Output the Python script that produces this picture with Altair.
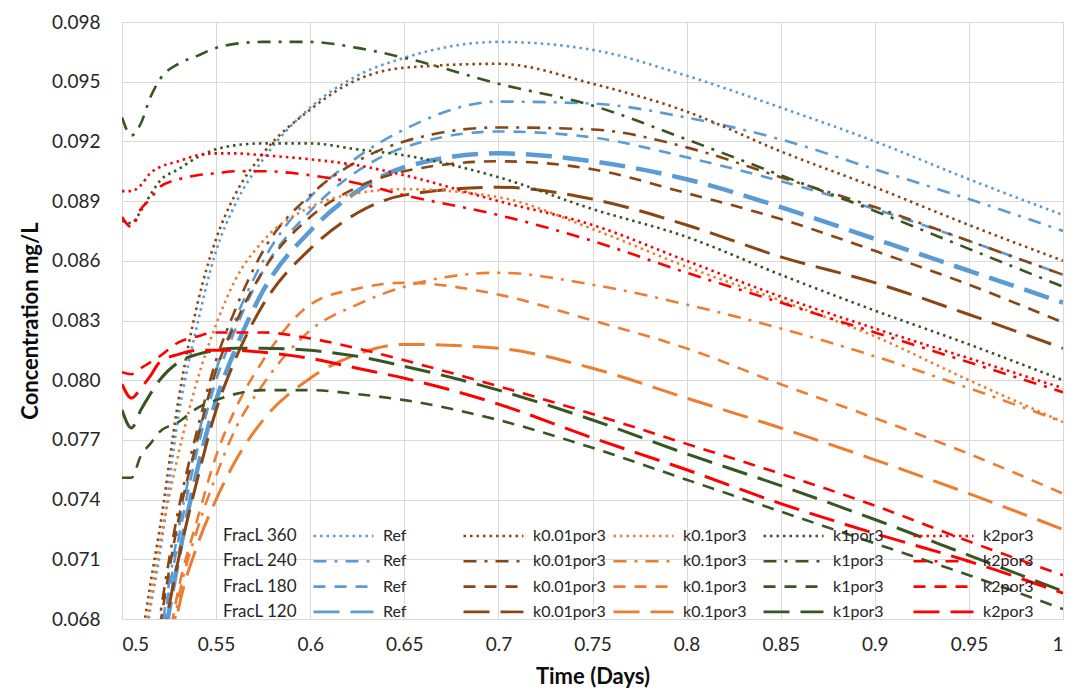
import altair as alt
import pandas as pd

# ---------------- data ----------------
TIME = [0.5, 0.505, 0.51, 0.515, 0.52, 0.53, 0.54, 0.55, 0.56, 0.575, 0.6, 0.625,
        0.65, 0.7, 0.75, 0.8, 0.85, 0.9, 0.95, 1.0]

FRACL = ["FracL 360", "FracL 240", "FracL 180", "FracL 120"]
VARIANTS = ["Ref", "k0.01por3", "k0.1por3", "k1por3", "k2por3"]

ref_360 = [0.058, 0.062, 0.0655, 0.0685, 0.0712, 0.0782, 0.0828, 0.0865, 0.0888, 0.0911, 0.0937, 0.0953, 0.0962, 0.0970, 0.0966, 0.0953, 0.0937, 0.0920, 0.0901, 0.0883]
ref_240 = [0.052, 0.056, 0.060, 0.0635, 0.0668, 0.0725, 0.0770, 0.0805, 0.0830, 0.0860, 0.0892, 0.0912, 0.0926, 0.0940, 0.0939, 0.0932, 0.0921, 0.0906, 0.0891, 0.0875]
ref_180 = [0.052, 0.056, 0.060, 0.0633, 0.0665, 0.0720, 0.0765, 0.0800, 0.0825, 0.0855, 0.0885, 0.0905, 0.0917, 0.0925, 0.0922, 0.0912, 0.0900, 0.0886, 0.0870, 0.0853]
ref_120 = [0.051, 0.055, 0.059, 0.0623, 0.0655, 0.0710, 0.0755, 0.0790, 0.0815, 0.0845, 0.0875, 0.0895, 0.0907, 0.0914, 0.0910, 0.0901, 0.0887, 0.0871, 0.0855, 0.0839]

k001_360 = [0.058, 0.0625, 0.0665, 0.0697, 0.0725, 0.0790, 0.0838, 0.0871, 0.0893, 0.0914, 0.0936, 0.0951, 0.0957, 0.0959, 0.0949, 0.0935, 0.0915, 0.0897, 0.0878, 0.0860]
k001_240 = [0.053, 0.057, 0.061, 0.0645, 0.0680, 0.0735, 0.0775, 0.0810, 0.0835, 0.0865, 0.0893, 0.0910, 0.0920, 0.0927, 0.0926, 0.0917, 0.0902, 0.0887, 0.0870, 0.0853]
k001_180 = [0.053, 0.057, 0.061, 0.0643, 0.0675, 0.0730, 0.0770, 0.0805, 0.0828, 0.0855, 0.0882, 0.0897, 0.0905, 0.0910, 0.0906, 0.0894, 0.0881, 0.0865, 0.0848, 0.0829]
k001_120 = [0.052, 0.056, 0.060, 0.0630, 0.0660, 0.0710, 0.0750, 0.0785, 0.0810, 0.0838, 0.0866, 0.0884, 0.0893, 0.0897, 0.0891, 0.0878, 0.0862, 0.0849, 0.0833, 0.0816]

k01_360 = [0.058, 0.062, 0.0658, 0.0688, 0.0717, 0.0763, 0.0800, 0.0828, 0.0850, 0.0870, 0.0887, 0.0894, 0.0896, 0.0892, 0.0876, 0.0857, 0.0840, 0.0822, 0.0800, 0.0779]
k01_240 = [0.050, 0.053, 0.056, 0.0592, 0.0625, 0.0690, 0.0725, 0.0752, 0.0775, 0.0798, 0.0825, 0.0838, 0.0847, 0.0854, 0.0848, 0.0838, 0.0826, 0.0812, 0.0796, 0.0779]
k01_180 = [0.051, 0.054, 0.058, 0.0610, 0.0640, 0.0695, 0.0730, 0.0762, 0.0785, 0.0810, 0.0838, 0.0846, 0.0849, 0.0843, 0.0830, 0.0816, 0.0798, 0.0781, 0.0763, 0.0743]
k01_120 = [0.050, 0.053, 0.056, 0.0592, 0.0625, 0.0685, 0.0717, 0.0740, 0.0759, 0.0780, 0.0801, 0.0813, 0.0818, 0.0816, 0.0806, 0.0791, 0.0776, 0.0760, 0.0743, 0.0725]

k1_360 = [0.0880, 0.0879, 0.0885, 0.0893, 0.0900, 0.0906, 0.0912, 0.0916, 0.0918, 0.0919, 0.0919, 0.0916, 0.0913, 0.0902, 0.0886, 0.0872, 0.0853, 0.0835, 0.0818, 0.0800]
k1_240 = [0.0932, 0.0923, 0.0929, 0.0942, 0.0951, 0.0959, 0.0963, 0.0967, 0.0969, 0.0970, 0.0970, 0.0967, 0.0962, 0.0949, 0.0938, 0.0921, 0.0903, 0.0885, 0.0866, 0.0847]
k1_180 = [0.0751, 0.0751, 0.0762, 0.0768, 0.0774, 0.0779, 0.0786, 0.0790, 0.0793, 0.0795, 0.0795, 0.0793, 0.0790, 0.0780, 0.0766, 0.0750, 0.0734, 0.0718, 0.0702, 0.0685]
k1_120 = [0.0785, 0.0776, 0.0785, 0.0793, 0.0800, 0.0809, 0.0813, 0.0815, 0.0816, 0.0816, 0.0815, 0.0812, 0.0807, 0.0795, 0.0780, 0.0763, 0.0747, 0.0730, 0.0712, 0.0694]

k2_360 = [0.0895, 0.0895, 0.0898, 0.0904, 0.0907, 0.0910, 0.0913, 0.0914, 0.0914, 0.0913, 0.0911, 0.0908, 0.0903, 0.0890, 0.0878, 0.0860, 0.0842, 0.0826, 0.0811, 0.0796]
k2_240 = [0.0882, 0.0877, 0.0886, 0.0891, 0.0897, 0.0901, 0.0903, 0.0904, 0.0905, 0.0905, 0.0903, 0.0899, 0.0893, 0.0883, 0.0870, 0.0854, 0.0839, 0.0824, 0.0809, 0.0794]
k2_180 = [0.0804, 0.0803, 0.0806, 0.0809, 0.0812, 0.0819, 0.0822, 0.0824, 0.0824, 0.0824, 0.0821, 0.0816, 0.0810, 0.0797, 0.0783, 0.0768, 0.0753, 0.0737, 0.0719, 0.0702]
k2_120 = [0.0798, 0.0791, 0.0796, 0.0802, 0.0809, 0.0813, 0.0815, 0.0815, 0.0815, 0.0814, 0.0811, 0.0806, 0.0801, 0.0788, 0.0771, 0.0755, 0.0738, 0.0723, 0.0709, 0.0693]

SERIES = {
    ("FracL 360", "Ref"): ref_360, ("FracL 240", "Ref"): ref_240,
    ("FracL 180", "Ref"): ref_180, ("FracL 120", "Ref"): ref_120,
    ("FracL 360", "k0.01por3"): k001_360, ("FracL 240", "k0.01por3"): k001_240,
    ("FracL 180", "k0.01por3"): k001_180, ("FracL 120", "k0.01por3"): k001_120,
    ("FracL 360", "k0.1por3"): k01_360, ("FracL 240", "k0.1por3"): k01_240,
    ("FracL 180", "k0.1por3"): k01_180, ("FracL 120", "k0.1por3"): k01_120,
    ("FracL 360", "k1por3"): k1_360, ("FracL 240", "k1por3"): k1_240,
    ("FracL 180", "k1por3"): k1_180, ("FracL 120", "k1por3"): k1_120,
    ("FracL 360", "k2por3"): k2_360, ("FracL 240", "k2por3"): k2_240,
    ("FracL 180", "k2por3"): k2_180, ("FracL 120", "k2por3"): k2_120,
}

X_TICKS = [0.5, 0.55, 0.6, 0.65, 0.7, 0.75, 0.8, 0.85, 0.9, 0.95, 1.0]
Y_TICKS = [0.068, 0.071, 0.074, 0.077, 0.080, 0.083, 0.086, 0.089, 0.092, 0.095, 0.098]

# ---------------- styles ----------------
COLORS = {"Ref": "#5B9BD5", "k0.01por3": "#8B4513", "k0.1por3": "#ED7D31",
          "k1por3": "#375623", "k2por3": "#FF0000"}
DASHES = {"FracL 360": [2.5, 4], "FracL 240": [13, 8, 3, 8],
          "FracL 180": [12, 9], "FracL 120": [26, 11]}
WIDTHS = {"FracL 360": 2.6, "FracL 240": 2.6, "FracL 180": 2.6, "FracL 120": 3.0}

FONT = "Lato"

# legend entries fill column by column: order the domain variant-major
names, colors, dashes, rows = [], [], [], []
for v in VARIANTS:
    for fr in FRACL:
        name = f"{fr}|{v}"
        names.append(name)
        colors.append(COLORS[v])
        dashes.append(DASHES[fr])
        lw = 4.5 if (fr == "FracL 120" and v == "Ref") else WIDTHS[fr]
        for t, c in zip(TIME, SERIES[(fr, v)]):
            rows.append({"series": name, "t": t, "c": c, "lw": lw})
df = pd.DataFrame(rows)

legend = alt.Legend(
    title=None, orient="none", legendX=190, legendY=505, columns=5,
    symbolType="stroke", symbolSize=3600, symbolStrokeWidth=2.6,
    clipHeight=18, rowPadding=7.3, columnPadding=6, gridAlign="all",
    labelFont=FONT, labelFontSize=16, labelColor="#262626", labelOffset=8,
    labelLimit=300, padding=0, labelExpr="split(datum.label, '|')[1]",
)

lines = alt.Chart(df).mark_line(clip=True, interpolate="monotone").encode(
    x=alt.X("t:Q", title="Time (Days)",
            scale=alt.Scale(domain=[0.5, 1.0], nice=False, zero=False),
            axis=alt.Axis(values=X_TICKS, format=".2~f")),
    y=alt.Y("c:Q", title="Concentration mg/L",
            scale=alt.Scale(domain=[0.068, 0.098], nice=False, zero=False),
            axis=alt.Axis(values=Y_TICKS, format=".3f")),
    color=alt.Color("series:N", scale=alt.Scale(domain=names, range=colors), legend=legend),
    strokeDash=alt.StrokeDash("series:N", scale=alt.Scale(domain=names, range=dashes), legend=legend),
    strokeWidth=alt.StrokeWidth("lw:Q", scale=None, legend=None),
)

# invisible layer whose legend gives the row labels (FracL 360 ...)
rows_df = pd.DataFrame({"frac": FRACL, "t": [0.75] * 4, "c": [0.08] * 4})
row_labels = alt.Chart(rows_df).mark_point(opacity=0, size=0).encode(
    x="t:Q", y="c:Q",
    shape=alt.Shape("frac:N", scale=alt.Scale(domain=FRACL),
                    legend=alt.Legend(title=None, orient="none", legendX=83, legendY=505,
                                      symbolOpacity=0, symbolStrokeWidth=0, symbolSize=324,
                                      clipHeight=18, rowPadding=7.3, padding=0,
                                      labelFont=FONT, labelFontSize=17, labelColor="#262626",
                                      labelOffset=0, labelLimit=300)),
)

chart = alt.layer(lines, row_labels).properties(
    width=941, height=597,
    autosize=alt.AutoSizeParams(type="none"),
    padding={"left": 122, "top": 22, "right": 13, "bottom": 76},
).configure_view(
    stroke="#d9d9d9", strokeWidth=1
).configure_axis(
    grid=True, gridColor="#d9d9d9", gridWidth=1, domain=False, ticks=False,
    labelFont=FONT, labelFontSize=19, labelColor="#262626",
    titleFont=FONT, titleFontSize=22, titleFontWeight="bold", titleColor="#0d0d0d",
).configure_axisX(
    labelPadding=16, titlePadding=12,
).configure_axisY(
    labelPadding=22, titlePadding=9,
)

chart.save("out.html", embed_options={"renderer": "svg", "actions": False})
